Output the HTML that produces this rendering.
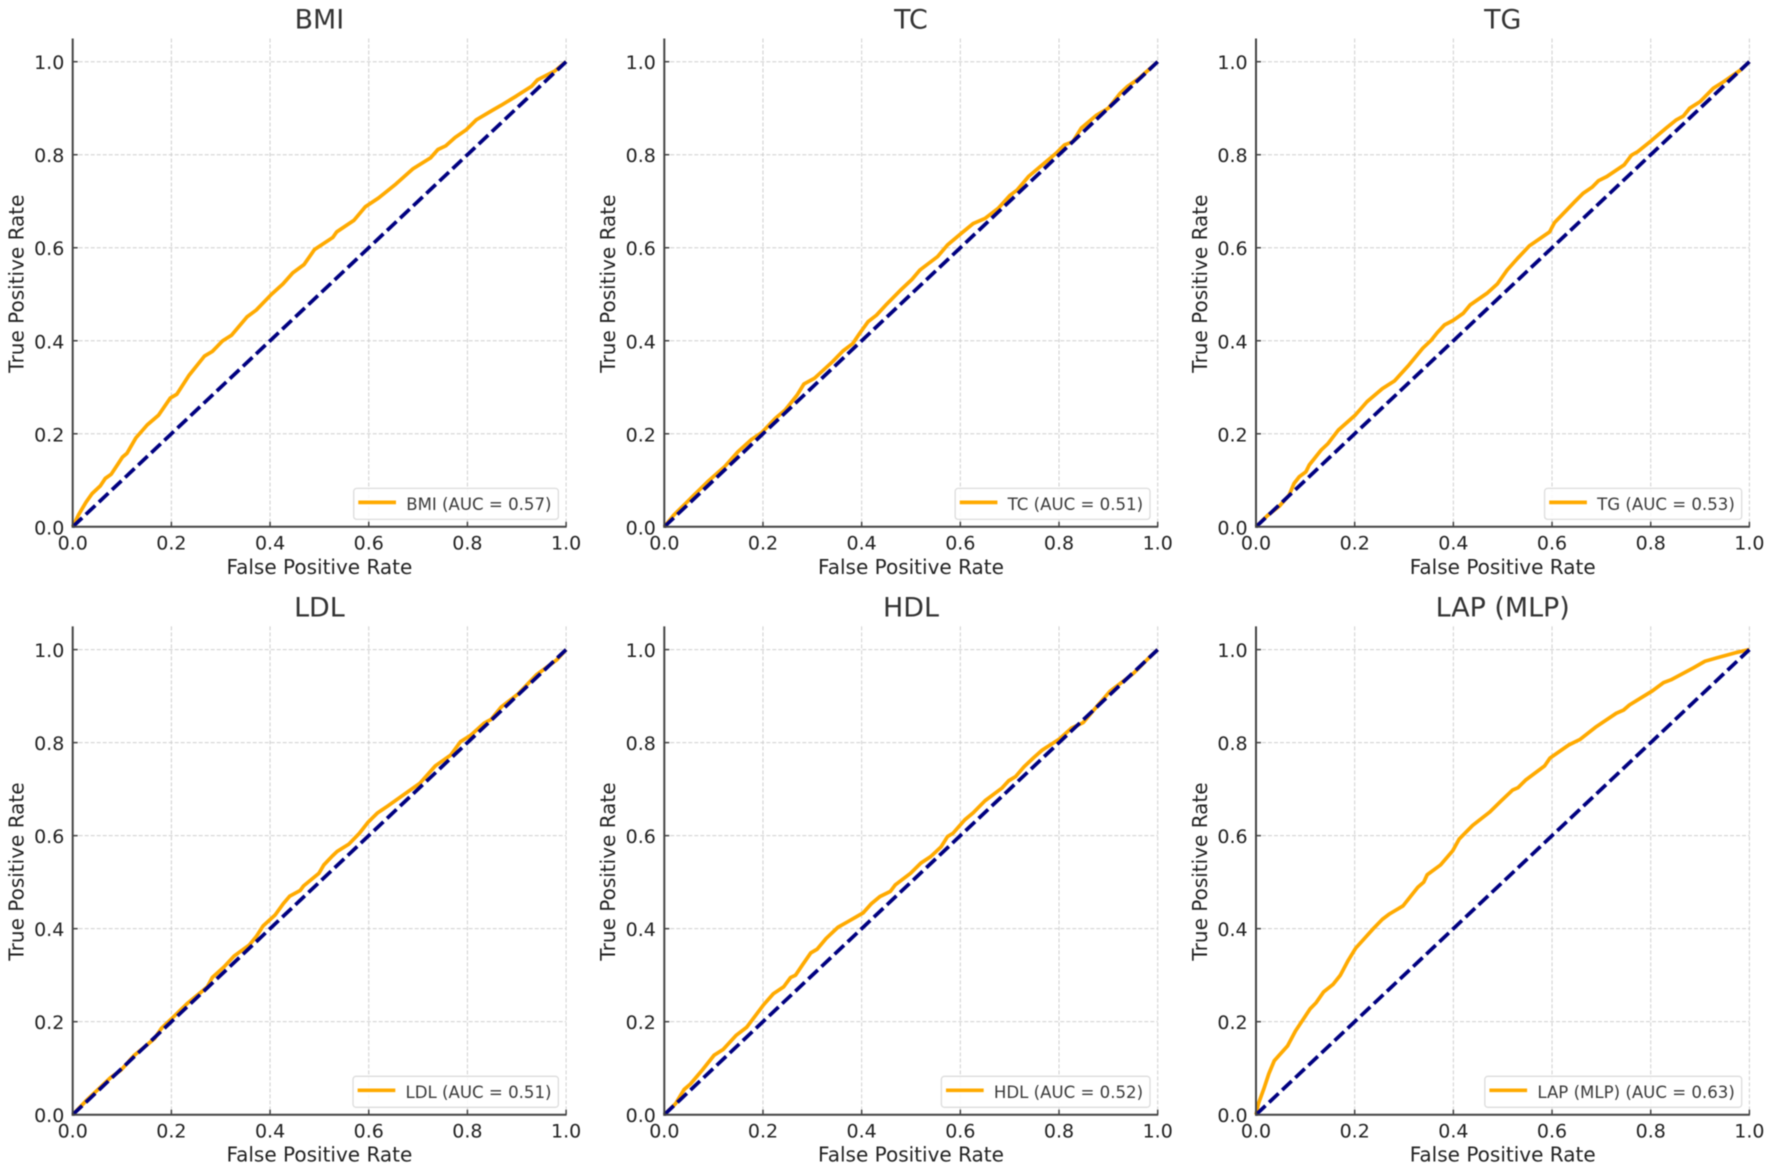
<!DOCTYPE html>
<html lang="en">
<head>
<meta charset="utf-8">
<title>ROC curves</title>
<style>
html,body{margin:0;padding:0;background:#fff;width:1772px;height:1174px;overflow:hidden}
svg{display:block;filter:blur(0.45px)}
text{font-family:"DejaVu Sans","Liberation Sans",sans-serif}
</style>
</head>
<body>
<svg id="chart" xmlns="http://www.w3.org/2000/svg" width="1772" height="1174" viewBox="0 0 1772 1174"></svg>
<script>
const categories = ["BMI", "TC", "TG", "LDL", "HDL", "LAP (MLP)"];
const aucValues = ["0.57", "0.51", "0.53", "0.51", "0.52", "0.63"];
const tickValues = [0, 0.2, 0.4, 0.6, 0.8, 1.0];
const tickLabels = ["0.0", "0.2", "0.4", "0.6", "0.8", "1.0"];
const chanceFpr = [0, 1];
const chanceTpr = [0, 1];
const xAxisTitle = "False Positive Rate";
const yAxisTitle = "True Positive Rate";

const fprBMI = [0,.012,.027,.039,.056,.066,.078,.093,.101,.11,.128,.151,.174,.198,.211,.236,.267,.283,.304,.322,.353,.372,.403,.426,.446,.469,.49,.527,.535,.57,.593,.62,.655,.69,.725,.74,.756,.775,.798,.818,.853,.868,.899,.93,.942,.977,1];
const tprBMI = [0,.026,.053,.071,.088,.104,.113,.137,.15,.158,.191,.219,.24,.277,.285,.326,.367,.377,.40,.412,.451,.466,.50,.522,.546,.564,.596,.622,.634,.659,.688,.707,.737,.77,.793,.811,.819,.837,.854,.875,.897,.906,.926,.947,.961,.98,1];

const fprTC = [0,.019,.043,.06,.088,.122,.149,.177,.197,.225,.245,.269,.283,.304,.341,.362,.382,.396,.413,.43,.451,.478,.502,.518,.554,.574,.602,.626,.65,.677,.701,.715,.739,.766,.794,.811,.828,.845,.876,.9,.924,.938,.962,1];
const tprTC = [0,.025,.05,.068,.097,.129,.161,.188,.202,.233,.251,.283,.307,.319,.355,.378,.394,.416,.441,.455,.479,.508,.532,.552,.581,.606,.631,.652,.663,.685,.713,.724,.754,.778,.803,.821,.828,.857,.885,.90,.932,.946,.964,1];

const fprTG = [0,.023,.047,.067,.077,.088,.101,.108,.132,.146,.167,.201,.225,.256,.281,.31,.338,.355,.367,.382,.40,.42,.434,.468,.489,.509,.53,.554,.595,.605,.626,.646,.663,.681,.694,.711,.746,.761,.773,.801,.831,.852,.866,.879,.90,.927,.948,.982,1];
const tprTG = [0,.024,.044,.068,.093,.108,.118,.133,.165,.179,.208,.24,.269,.297,.314,.348,.384,.401,.417,.434,.444,.459,.477,.502,.522,.552,.577,.604,.634,.654,.677,.699,.717,.73,.744,.753,.778,.799,.806,.83,.857,.875,.883,.90,.914,.943,.957,.982,1];

const fprLDL = [0,.029,.057,.077,.098,.125,.146,.166,.18,.201,.232,.255,.273,.283,.307,.327,.358,.372,.386,.41,.427,.44,.461,.468,.499,.509,.526,.536,.56,.581,.598,.618,.639,.68,.704,.735,.766,.786,.807,.834,.848,.868,.903,.94,.981,1];
const tprLDL = [0,.032,.06,.08,.096,.128,.146,.164,.186,.207,.239,.259,.275,.295,.318,.341,.365,.383,.406,.429,.454,.47,.482,.492,.519,.537,.556,.566,.582,.605,.628,.649,.664,.695,.713,.75,.773,.802,.816,.842,.85,.876,.905,.946,.978,1];

const fprHDL = [0,.023,.04,.053,.077,.101,.119,.146,.167,.201,.221,.242,.256,.266,.28,.297,.31,.328,.352,.372,.403,.42,.437,.458,.468,.499,.52,.54,.561,.574,.585,.609,.626,.65,.684,.698,.712,.729,.749,.766,.80,.825,.849,.876,.903,.951,.979,1];
const tprHDL = [0,.024,.054,.066,.096,.128,.14,.171,.188,.236,.26,.275,.295,.30,.322,.348,.356,.379,.403,.415,.434,.454,.469,.48,.494,.519,.541,.555,.576,.598,.605,.634,.649,.675,.702,.718,.727,.748,.768,.784,.807,.831,.843,.877,.91,.949,.979,1];

const fprLAP = [0,.005,.016,.026,.037,.064,.08,.11,.122,.137,.156,.171,.187,.202,.236,.256,.271,.298,.328,.34,.347,.374,.399,.412,.439,.474,.497,.52,.531,.546,.585,.596,.634,.657,.688,.73,.745,.757,.803,.826,.841,.887,.91,.933,.971,1];
const tprLAP = [0,.024,.056,.088,.116,.148,.18,.228,.241,.264,.28,.30,.332,.358,.398,.42,.432,.449,.489,.50,.516,.537,.568,.593,.622,.651,.675,.698,.703,.719,.75,.767,.795,.807,.833,.863,.87,.881,.911,.929,.935,.961,.975,.982,.993,1];

const fprSeries = [fprBMI, fprTC, fprTG, fprLDL, fprHDL, fprLAP];
const tprSeries = [tprBMI, tprTC, tprTG, tprLDL, tprHDL, tprLAP];

const NS = "http://www.w3.org/2000/svg";
const svg = document.getElementById("chart");
const plotLeft = [72.7, 664.3, 1256];
const plotTop = [61.7, 649.6];
const plotW = 493.4;
const plotH = 465.1;
const slug = s => s.toLowerCase().replace(/[^a-z0-9]+/g, "-").replace(/-$/, "");

function make(parent, tag, attrs, text) {
  const node = document.createElementNS(NS, tag);
  for (const k in attrs) node.setAttribute(k, attrs[k]);
  if (text !== undefined) node.textContent = text;
  parent.appendChild(node);
  return node;
}

categories.forEach((name, i) => {
  const left = plotLeft[i % 3];
  const top = plotTop[Math.floor(i / 3)];
  const sx = v => left + v * plotW;
  const sy = v => top + (1 - v) * plotH;
  const key = slug(name);

  const g = make(svg, "g", {});
  
  

  tickValues.forEach((t, k) => {
    const gx = make(g, "line", {x1: sx(t), x2: sx(t), y1: sy(1.05), y2: sy(0), stroke: "#cfcfcf", "stroke-width": 1, "stroke-dasharray": "4 2"});
    
    
    const gy = make(g, "line", {x1: sx(0), x2: sx(1), y1: sy(t), y2: sy(t), stroke: "#cfcfcf", "stroke-width": 1, "stroke-dasharray": "4 2"});
    
    
  });

  const rocPts = fprSeries[i].map((x, k) => sx(x).toFixed(2) + "," + sy(tprSeries[i][k]).toFixed(2)).join(" ");
  const roc = make(g, "polyline", {points: rocPts, fill: "none", stroke: "#ffaa00", "stroke-width": 3.7, "stroke-linejoin": "round"});
  
  

  const chancePts = chanceFpr.map((x, k) => sx(x) + "," + sy(chanceTpr[k])).join(" ");
  const chance = make(g, "polyline", {points: chancePts, fill: "none", stroke: "#000080", "stroke-width": 3.7, "stroke-dasharray": "13 5"});
  
  

  const spineL = make(g, "line", {x1: sx(0), x2: sx(0), y1: sy(1.05), y2: sy(0) + 1, stroke: "#444444", "stroke-width": 2});
  
  
  const spineB = make(g, "line", {x1: sx(0) - 1, x2: sx(1) + 0.5, y1: sy(0), y2: sy(0), stroke: "#444444", "stroke-width": 2});
  
  

  tickValues.forEach((t, k) => {
    const tx = make(g, "line", {x1: sx(t), x2: sx(t), y1: sy(0), y2: sy(0) - 5, stroke: "#444444", "stroke-width": 1.5});
    
    
    const ty = make(g, "line", {x1: sx(0), x2: sx(0) + 5, y1: sy(t), y2: sy(t), stroke: "#444444", "stroke-width": 1.5});
    
    
    const lx = make(g, "text", {x: sx(t), y: sy(0) + 22.6, "text-anchor": "middle", "font-size": 19, fill: "#222222"}, tickLabels[k]);
    
    
    const ly = make(g, "text", {x: sx(0) - 8.4, y: sy(t) + 7.5, "text-anchor": "end", "font-size": 19, fill: "#222222"}, tickLabels[k]);
    
    
  });

  const title = make(g, "text", {x: sx(0.5), y: sy(1.05) - 9.7, "text-anchor": "middle", "font-size": 26.9, fill: "#333333"}, name);
  
  

  const xt = make(g, "text", {x: sx(0.5), y: sy(0) + 47, "text-anchor": "middle", "font-size": 20, fill: "#222222"}, xAxisTitle);
  
  

  const yCx = left - 49.2;
  const yCy = (sy(1.05) + sy(0)) / 2 + 1;
  const yt = make(g, "text", {x: yCx, y: yCy, "text-anchor": "middle", "font-size": 20, fill: "#222222", transform: "rotate(-90 " + yCx + " " + yCy + ")"}, yAxisTitle);
  
  

  const legend = make(g, "g", {});
  
  
  const frameRight = sx(1) - 7.7;
  const frameBottom = sy(0) - 7.4;
  const frame = make(legend, "rect", {y: frameBottom - 31, height: 31, rx: 3, ry: 3, fill: "#ffffff", "fill-opacity": 0.85, stroke: "#dcdcdc", "stroke-width": 1.3});
  
  
  const label = make(legend, "text", {x: frameRight - 6.9, y: frameBottom - 9.2, "text-anchor": "end", "font-size": 16.6, fill: "#3a3a3a"}, name + " (AUC = " + aucValues[i] + ")");
  
  
  const textW = label.getComputedTextLength();
  const textLeft = frameRight - 6.9 - textW;
  const frameLeft = textLeft - 52.5;
  frame.setAttribute("x", frameLeft);
  frame.setAttribute("width", frameRight - frameLeft);
  const swatch = make(legend, "line", {x1: frameLeft + 4.6, x2: frameLeft + 42.3, y1: frameBottom - 17, y2: frameBottom - 17, stroke: "#ffaa00", "stroke-width": 3.7});
  
  
});
</script>
</body>
</html>
